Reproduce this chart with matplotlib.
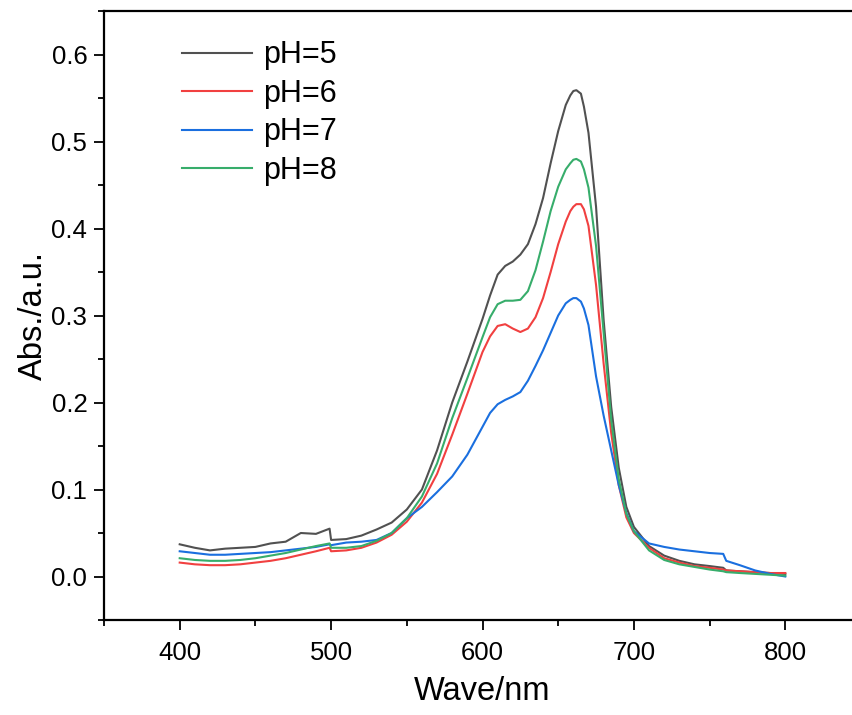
import matplotlib
matplotlib.use("Agg")
import matplotlib.pyplot as plt
from matplotlib.ticker import MultipleLocator

plt.rcParams['font.family'] = ['Liberation Sans', 'DejaVu Sans']

# wavelength grid (nm)
wave = [400, 410, 420, 430, 440, 450, 460, 470, 480, 490, 499, 500, 510, 520, 530, 540,
        550, 560, 570, 580, 590, 600, 605, 610, 615, 620, 625, 630, 635, 640, 645, 650,
        655, 658, 660, 662, 665, 667, 670, 675, 680, 685, 690, 695, 700, 710, 720, 730,
        740, 750, 759, 761, 770, 780, 790, 800]

ph5 = [.037, .033, .030, .032, .033, .034, .038, .040, .050, .049, .055, .042, .043, .047, .054, .062,
       .077, .100, .145, .200, .247, .296, .323, .347, .357, .362, .370, .382, .405, .435, .475, .512,
       .542, .553, .558, .559, .555, .540, .510, .425, .295, .195, .125, .080, .057, .035, .024, .018,
       .014, .012, .010, .007, .006, .005, .004, .003]

ph6 = [.016, .014, .013, .013, .014, .016, .018, .021, .025, .029, .033, .029, .030, .033, .039, .048,
       .063, .085, .118, .163, .210, .258, .276, .288, .290, .285, .281, .285, .298, .320, .350, .382,
       .408, .420, .425, .428, .428, .422, .403, .335, .245, .165, .105, .068, .050, .033, .021, .016,
       .012, .010, .008, .007, .006, .005, .004, .004]

ph7 = [.029, .027, .025, .025, .026, .027, .028, .030, .032, .034, .037, .036, .039, .040, .042, .050,
       .067, .080, .097, .115, .140, .172, .188, .198, .203, .207, .212, .225, .242, .260, .280, .300,
       .314, .318, .320, .320, .316, .308, .289, .230, .185, .145, .105, .073, .052, .038, .034, .031,
       .029, .027, .026, .018, .013, .007, .003, .000]

ph8 = [.021, .019, .018, .018, .019, .021, .024, .027, .031, .035, .038, .033, .033, .035, .041, .050,
       .067, .092, .130, .182, .228, .275, .298, .313, .317, .317, .318, .328, .352, .385, .420, .448,
       .468, .475, .479, .480, .477, .468, .447, .380, .280, .180, .112, .072, .052, .030, .019, .014,
       .011, .008, .006, .005, .004, .003, .002, .001]

labels = ['pH=5', 'pH=6', 'pH=7', 'pH=8']
colors = ['#515151', '#F14040', '#1A6FDF', '#37AD6B']

fig = plt.figure(figsize=(8.52, 7.15), dpi=100)
ax = fig.add_axes([104 / 852, 95 / 715, 757 / 852, 609 / 715])

for ys, lab, c in zip([ph5, ph6, ph7, ph8], labels, colors):
    ax.plot(wave, ys, color=c, lw=1.5, label=lab)

ax.set_xlim(350, 850)
ax.set_ylim(-0.05, 0.65)
ax.xaxis.set_major_locator(MultipleLocator(100))
ax.xaxis.set_minor_locator(MultipleLocator(50))
ax.yaxis.set_major_locator(MultipleLocator(0.1))
ax.yaxis.set_minor_locator(MultipleLocator(0.05))
ax.set_xticks([400, 500, 600, 700, 800])
ax.set_yticks([0.0, 0.1, 0.2, 0.3, 0.4, 0.5, 0.6])
ax.set_yticklabels(['0.0', '0.1', '0.2', '0.3', '0.4', '0.5', '0.6'])

ax.tick_params(which='major', direction='out', length=7, width=1.3, labelsize=18.5, pad=5)
ax.tick_params(which='minor', direction='out', length=4, width=1.3)
ax.tick_params(axis='x', which='major', pad=8)
for s in ax.spines.values():
    s.set_linewidth(1.6)

ax.set_xlabel('Wave/nm', fontsize=23.5, labelpad=8)
ax.set_ylabel('Abs./a.u.', fontsize=23.5, labelpad=2)

ax.legend(loc='upper left', bbox_to_anchor=(0.103, 0.952), frameon=False, fontsize=22,
          handlelength=2.3, handletextpad=0.35, labelspacing=0.28, borderpad=0, borderaxespad=0)

fig.savefig('out.png', dpi=100)
